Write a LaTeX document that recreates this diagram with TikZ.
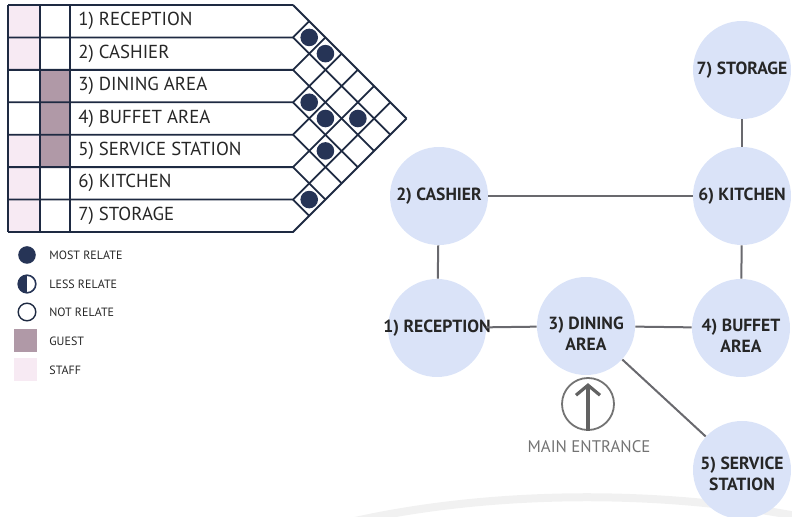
\documentclass[tikz,border=0pt]{standalone}
\usepackage{fontspec}
\setmainfont{PT Sans}
\usepackage{tikz}
\usetikzlibrary{arrows.meta}
\definecolor{MxNavy}{RGB}{30,42,66}
\definecolor{MxDot}{RGB}{38,52,86}
\definecolor{MxGuest}{RGB}{176,153,167}
\definecolor{MxStaff}{RGB}{247,234,243}
\definecolor{BubBlue}{RGB}{218,227,248}
\definecolor{LinkGray}{RGB}{105,105,110}
\definecolor{EntGray}{RGB}{115,115,115}
\newcommand{\rowh}{32.43}

\begin{document}
\begin{tikzpicture}[x=0.5pt, y=-0.5pt,
    grid/.style={draw=MxNavy, line width=0.9pt},
    lbl/.style={anchor=west, inner sep=0pt, text=black!85,
                font=\fontsize{9.4}{11}\selectfont},
    most/.style={circle, fill=MxDot, minimum size=8.8pt, inner sep=0pt},
    lgd/.style={anchor=west, inner sep=0pt, text=black!85,
                font=\fontsize{6}{7}\selectfont},
    bub/.style={circle, fill=BubBlue, minimum size=49pt, inner sep=0pt},
    btxt/.style={inner sep=0pt, text=black!85, align=center,
                 font=\fontsize{8.8}{10.5}\selectfont\bfseries},
    link/.style={draw=LinkGray, line width=1pt}
  ]
  \useasboundingbox (0,0) rectangle (792,517);
  \clip (0,0) rectangle (792,517);

  % faint arc at the bottom
  \draw[gray!11, line width=4pt] (355,521) .. controls (500,489) and (680,489) .. (830,523);

  % Matrix: staff / guest columns
  \foreach \i in {1,2,5,6,7}
    \fill[MxStaff] (8,{5+(\i-1)*\rowh}) rectangle (40,{5+\i*\rowh});
  \foreach \i in {3,4,5}
    \fill[MxGuest] (40,{5+(\i-1)*\rowh}) rectangle (70,{5+\i*\rowh});

  % Matrix: rows and diamond grid
  \foreach \k in {0,...,7} {
    \draw[grid] (8,{5+\k*\rowh}) -- (293,{5+\k*\rowh})
                -- ++({\k*\rowh/2},{-\k*\rowh/2});
    \draw[grid] (293,{5+\k*\rowh}) -- ++({(7-\k)*\rowh/2},{(7-\k)*\rowh/2});
  }
  \foreach \xv in {8,40,70}
    \draw[grid] (\xv,5) -- (\xv,232);

  % Matrix: space names
  \foreach \i/\t in {1/{1) RECEPTION}, 2/{2) CASHIER}, 3/{3) DINING AREA},
                     4/{4) BUFFET AREA}, 5/{5) SERVICE STATION},
                     6/{6) KITCHEN}, 7/{7) STORAGE}}
    \node[lbl] (r\i) at (78,{5+(\i-0.5)*\rowh}) {\t};

  % Matrix: relations
  \foreach \i/\j in {1/2, 1/3, 3/4, 3/5, 2/6, 4/6, 6/7}
    \node[most] (d\i\j) at ({293+(\j-\i)*\rowh/2},{5+((\i+\j)/2-0.5)*\rowh}) {};

  % Legend
  \node[most] (lgmost) at (27,255) {};
  \node[lgd] (tmost) at (49,255) {MOST RELATE};
  \node[most, fill=white, draw=MxDot, line width=0.8pt,
        path picture={\fill[MxDot] (path picture bounding box.south west)
                      rectangle (path picture bounding box.north);}]
        (lgless) at (27,284) {};
  \node[lgd] (tless) at (49,284) {LESS RELATE};
  \node[most, fill=white, draw=MxNavy, line width=0.7pt] (lgnot) at (27,312) {};
  \node[lgd] (tnot) at (49,312) {NOT RELATE};
  \node[rectangle, fill=MxGuest, minimum size=11.5pt, inner sep=0pt] (lgguest) at (25,341) {};
  \node[lgd] (tguest) at (49,341) {GUEST};
  \node[rectangle, fill=MxStaff, minimum size=11.5pt, inner sep=0pt] (lgstaff) at (25,370) {};
  \node[lgd] (tstaff) at (49,370) {STAFF};

  % Bubble diagram
  \node[bub, label={[btxt]center:7) STORAGE}] (sto) at (742,70) {};
  \node[bub, label={[btxt]center:6) KITCHEN}] (kit) at (742,196) {};
  \node[bub, label={[btxt]center:2) CASHIER}] (cash) at (439,196) {};
  \node[bub, label={[btxt]center:1) RECEPTION}] (rec) at (437,328) {};
  \node[bub, label={[btxt, yshift=-4pt]center:{3) DINING\\AREA}}] (din) at (586,326) {};
  \node[bub, label={[btxt, yshift=-4pt]center:{4) BUFFET\\AREA}}] (buf) at (741,328) {};
  \node[bub, label={[btxt, yshift=-2pt]center:{5) SERVICE\\STATION}}] (ser) at (742,470) {};

  \draw[link] (sto) -- (kit);
  \draw[link] (kit) -- (buf);
  \draw[link] (cash) -- (kit);
  \draw[link] (cash) -- (rec);
  \draw[link] (rec) -- (din);
  \draw[link] (din) -- (buf);
  \draw[link] (din) -- (ser);

  % Main entrance
  \node[circle, draw=EntGray, line width=0.9pt, minimum size=26pt, inner sep=0pt]
        (ent) at (588,404) {};
  \draw[EntGray!85!black, line width=1.6pt, -{Straight Barb[length=5pt, width=12pt]}]
        (ent.south) -- ([yshift=-3pt]ent.north);
  \node[text=EntGray, font=\fontsize{8.4}{10}\selectfont, inner sep=0pt]
        (entlab) at (589,447) {MAIN ENTRANCE};
\end{tikzpicture}
\end{document}
